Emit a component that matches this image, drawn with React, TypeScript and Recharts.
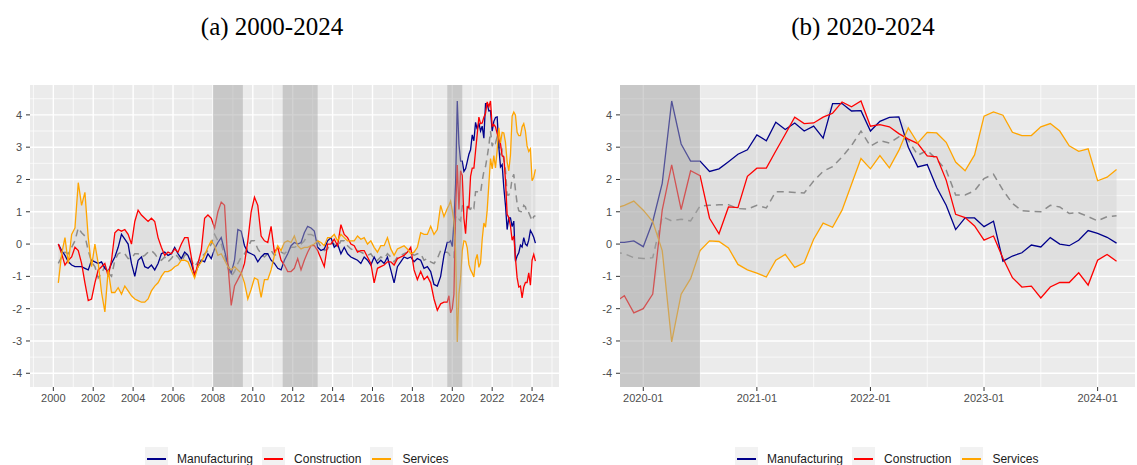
import React from 'react';
import { ComposedChart, Line, Area, XAxis, YAxis, CartesianGrid, ReferenceArea } from 'recharts';

const seriesNames = ['Manufacturing', 'Construction', 'Services'];
const seriesColors = ['#00008B', '#FF0000', '#FFA500'];

// 2000-04 .. 2019-08, every second month
const manufacturingLong = [
  0.0, -0.2, -0.35, -0.55, -0.65, -0.7, -0.7, -0.7, -0.75, -0.8, -0.5, -0.55, -0.6, -0.55, -0.75, -0.85, -0.6, -0.4, -0.1, 0.3, 0.15, 0.0, -0.6, -1.0, -0.5, -0.4, -0.7, -0.75, -0.65,
  -0.8, -0.6, -0.3, -0.25, -0.35, -0.3, -0.1, -0.3, -0.45, -0.25, -0.35, -0.6, -0.95, -0.7, -0.5, -0.55, -0.3, -0.45, -0.15, 0.05, 0.2, -0.2, -0.65, -0.9, -0.5, 0.45, 0.4, -0.05, -0.25, -0.3, -0.35, -0.55,
  -0.4, -0.3, -0.3, -0.5, -0.6, -0.75, -0.8, -0.5, -0.3, -0.05, 0.05, 0.0, 0.05, 0.35, 0.55, 0.5, 0.4, -0.1, -0.2, -0.15, 0.1, 0.2, -0.1, 0.0, -0.3, -0.1, -0.3, -0.4, -0.45, -0.5, -0.6,
  -0.4, -0.5, -0.65, -0.4, -0.6, -0.5, -0.6, -0.4, -0.8, -1.2, -0.7, -0.55, -0.4, -0.45, -0.4, -0.55, -0.45, -0.5, -0.75, -0.7, -0.85, -1.25, -1.3, -1.0, -0.35,
];
const constructionLong = [
  0.0, -0.3, -0.65, -0.5, -0.4, -0.1, -0.2, -0.6, -1.2, -1.75, -1.7, -1.2, -0.8, -0.7, -0.6, -1.0, -0.5, 0.35, 0.45, 0.4, 0.45, 0.3, 0.0, 0.7, 1.05, 0.9, 0.8, 0.7, 0.8,
  0.7, 0.2, -0.1, -0.35, -0.25, -0.3, -0.15, -0.25, 0.0, 0.2, 0.2, -0.4, -1.0, -0.6, -0.2, 0.8, 0.9, 0.8, 0.5, 1.0, 1.3, 1.2, -0.6, -1.9, -1.3, -1.1, -0.9, -0.6, 0.1, 1.0, 1.45, 1.2,
  0.25, 0.1, 0.05, 0.55, -0.25, -0.1, -0.5, -0.65, -0.85, -0.85, -0.75, -0.45, -0.8, -0.5, -0.25, -0.05, -0.05, -0.2, -0.45, -0.7, 0.0, 0.0, 0.15, -0.05, 0.6, 0.3, 0.2, 0.0, -0.05, -0.25, -0.2,
  -0.2, -0.4, -0.6, -1.2, -0.75, -0.7, -0.65, -0.55, -0.55, -0.65, -0.45, -0.4, -0.35, -0.25, -0.1, -0.8, -1.1, -0.85, -1.1, -1.0, -1.2, -1.7, -2.05, -1.85, -1.8,
];
const servicesLong = [
  -1.2, -0.3, 0.2, -0.6, 0.3, 0.5, 1.9, 1.2, 1.6, 0.2, -0.7, 0.0, -0.6, -1.5, -2.1, -0.8, -1.5, -1.5, -1.35, -1.55, -1.3, -1.45, -1.6, -1.7, -1.75, -1.8, -1.8, -1.7, -1.45,
  -1.3, -1.2, -1.0, -0.85, -0.85, -0.8, -0.7, -0.65, -0.5, -0.5, -0.55, -0.8, -1.05, -0.7, -0.55, -0.35, -0.1, 0.1, -0.05, -0.35, -0.3, -0.5, -0.7, -0.8, -0.7, -0.8, -0.9, -1.2, -1.7, -1.4, -1.05, -1.1,
  -1.65, -1.1, -1.1, -0.8, -0.35, -0.05, -0.2, 0.05, 0.1, 0.05, 0.25, -0.05, -0.15, -0.1, -0.1, -0.05, 0.0, 0.1, 0.05, -0.05, 0.2, 0.2, 0.3, 0.1, 0.3, 0.2, 0.1, 0.1, 0.1, 0.25, 0.15,
  0.2, 0.0, 0.1, -0.1, -0.25, -0.05, -0.05, 0.2, -0.15, -0.35, -0.15, -0.1, -0.05, -0.15, -0.3, -0.25, -0.1, 0.35, 0.3, 0.3, 0.55, 0.3, 0.45, 1.2, 0.85,
];
const aggregateLong = [
  -0.6, -0.4, -0.25, -0.3, -0.1, 0.1, 0.5, 0.35, 0.25, -0.2, -0.55, -0.7, -1.05, -0.9, -0.7, -0.9, -1.0, -0.5, -0.3, -0.25, -0.3, -0.45, -0.45, -0.3, -0.3, -0.4, -0.35, -0.25, -0.2,
  -0.3, -0.45, -0.5, -0.4, -0.55, -0.45, -0.3, -0.4, -0.55, -0.35, -0.3, -0.5, -0.7, -0.55, -0.4, -0.3, -0.2, 0.0, 0.3, 0.1, 0.0, -0.35, -0.75, -1.0, -0.85, -0.6, -0.4, -0.3, -0.1, 0.1, 0.1, -0.15,
  -0.3, -0.4, -0.3, -0.2, -0.35, -0.3, -0.25, -0.3, -0.2, -0.1, -0.1, -0.05, 0.0, 0.1, 0.3, 0.3, 0.25, 0.1, -0.1, -0.2, -0.15, 0.05, 0.0, -0.1, 0.1, 0.1, -0.05, -0.15, -0.2, -0.2, -0.25,
  -0.3, -0.35, -0.3, -0.45, -0.5, -0.4, -0.45, -0.3, -0.4, -0.55, -0.4, -0.35, -0.3, -0.25, -0.25, -0.35, -0.3, -0.3, -0.5, -0.45, -0.55, -0.6, -0.45, -0.2, -0.25,
];

// 2019-10 .. 2024-03, monthly
const manufacturingRecent = [
  0.05, 0.05, 0.1, -0.08, 0.7, 1.88, 4.43, 3.1, 2.57, 2.57, 2.25, 2.33, 2.55, 2.78, 2.92, 3.38, 3.2, 3.77, 3.55, 3.75, 3.5, 3.65, 3.28,
  4.35, 4.35, 4.12, 4.13, 3.5, 3.8, 3.92, 3.94, 3.0, 2.39, 2.46, 1.75, 1.2, 0.45, 0.81, 0.81, 0.54, 0.71, -0.53, -0.37, -0.27, -0.03,
  -0.09, 0.2, 0.0, -0.05, 0.12, 0.42, 0.33, 0.21, 0.03,
];
const constructionRecent = [
  -1.8, -1.6, -2.13, -2.0, -1.55, 1.05, 2.45, 1.07, 2.27, 2.12, 0.8, 0.32, 1.15, 1.13, 2.1, 2.35, 2.35, 2.88, 3.4, 3.93, 3.73, 3.75, 3.93,
  4.05, 4.4, 4.25, 4.43, 3.65, 3.7, 3.63, 3.42, 3.25, 3.11, 2.73, 2.7, 1.98, 0.92, 0.82, 0.56, 0.12, 0.25, -0.44, -1.04, -1.33, -1.3,
  -1.67, -1.33, -1.19, -1.19, -0.89, -1.27, -0.5, -0.32, -0.53,
];
const servicesRecent = [
  1.1, 1.2, 1.33, 1.05, 0.7, -0.2, -3.03, -1.55, -1.07, -0.2, 0.1, 0.08, -0.12, -0.63, -0.8, -0.9, -1.02, -0.5, -0.32, -0.72, -0.58, 0.15, 0.65,
  0.52, 1.05, 1.85, 2.65, 2.33, 2.74, 2.36, 2.9, 3.6, 3.13, 3.46, 3.44, 3.15, 2.54, 2.27, 2.76, 3.96, 4.09, 3.99, 3.46, 3.36, 3.36,
  3.63, 3.73, 3.5, 3.04, 2.87, 2.95, 1.96, 2.07, 2.31,
];
const aggregateRecent = [
  -0.25, -0.3, -0.42, -0.45, -0.42, 0.85, 0.72, 0.77, 0.72, 1.18, 1.2, 1.22, 1.22, 1.1, 1.08, 1.2, 1.12, 1.62, 1.62, 1.6, 1.58, 1.95, 2.25,
  2.4, 2.7, 3.05, 3.5, 3.03, 3.2, 3.13, 3.32, 3.22, 2.75, 2.9, 2.62, 2.29, 1.52, 1.52, 1.65, 2.03, 2.16, 1.67, 1.26, 1.03, 1.01,
  1.0, 1.2, 1.15, 0.95, 0.97, 0.85, 0.72, 0.85, 0.88,
];

const recessionsLong = [[2008.0, 2009.5], [2011.5, 2013.25], [2019.75, 2020.5]];
const recessionsRecent = [[-3, 6]]; // months from 2020-01

const longTicks = [2000, 2002, 2004, 2006, 2008, 2010, 2012, 2014, 2016, 2018, 2020, 2022, 2024];
const longMinor = [1999, 2001, 2003, 2005, 2007, 2009, 2011, 2013, 2015, 2017, 2019, 2021, 2023, 2025];
const recentTicks = [0, 12, 24, 36, 48];
const recentTickLabels = ['2020-01', '2021-01', '2022-01', '2023-01', '2024-01'];
const recentMinor = [6, 18, 30, 42];
const yTicks = [-4, -3, -2, -1, 0, 1, 2, 3, 4];
const yMinor = [-3.5, -2.5, -1.5, -0.5, 0.5, 1.5, 2.5, 3.5, 4.5];

const makeRow = (x: number, m: number, c: number, s: number, a: number) => ({
  x,
  manufacturing: m,
  construction: c,
  services: s,
  aggregate: a,
  band: [Math.min(m, c, s), Math.max(m, c, s)],
});

const longData = [
  ...manufacturingLong.map((v, i) =>
    makeRow(2000 + (3 + 2 * i) / 12, v, constructionLong[i], servicesLong[i], aggregateLong[i])),
  ...manufacturingRecent.map((v, i) =>
    makeRow(2020 + (i - 3) / 12, v, constructionRecent[i], servicesRecent[i], aggregateRecent[i])),
];
const recentData = manufacturingRecent.map((v, i) =>
  makeRow(i - 3, v, constructionRecent[i], servicesRecent[i], aggregateRecent[i]));

const tickStyle = { fill: '#4D4D4D', fontSize: 11, fontFamily: 'Liberation Sans, Arial, sans-serif' };
const seriesKeys = ['manufacturing', 'construction', 'services'];

type PanelProps = {
  data: any[];
  width: number;
  margin: { top: number; right: number; bottom: number; left: number };
  xDomain: [number, number];
  xTicks: number[];
  xMinor: number[];
  shades: number[][];
  formatX?: (v: number) => string;
};

const Panel = ({ data, width, margin, xDomain, xTicks, xMinor, shades, formatX }: PanelProps) => (
  <ComposedChart width={width} height={410} data={data} margin={margin}>
    <CartesianGrid fill="#EBEBEB" stroke="#FFFFFF" strokeWidth={0.7} horizontalValues={yMinor} verticalValues={xMinor} />
    <CartesianGrid stroke="#FFFFFF" strokeWidth={1.4} horizontalValues={yTicks} verticalValues={xTicks} />
    <XAxis
      dataKey="x"
      type="number"
      domain={xDomain}
      allowDataOverflow
      ticks={xTicks}
      tickFormatter={formatX}
      axisLine={false}
      tickLine={{ stroke: '#333333' }}
      tickSize={4}
      tickMargin={3}
      height={20}
      tick={tickStyle}
      interval={0}
    />
    <YAxis
      type="number"
      domain={[-4.425, 4.925]}
      allowDataOverflow
      ticks={yTicks}
      axisLine={false}
      tickLine={{ stroke: '#333333' }}
      tickSize={4}
      tickMargin={4}
      width={22}
      tick={tickStyle}
      interval={0}
    />
    <Area dataKey="band" stroke="none" fill="#cccccc" fillOpacity={0.4} isAnimationActive={false} />
    <Line dataKey="aggregate" stroke="#8C8C8C" strokeWidth={1.5} strokeDasharray="7 5" dot={false} isAnimationActive={false} />
    {seriesKeys.map((k, i) => (
      <Line key={k} dataKey={k} stroke={seriesColors[i]} strokeWidth={1.3} dot={false} isAnimationActive={false} />
    ))}
    {shades.map(([a, b]) => (
      <ReferenceArea key={a} x1={a} x2={b} ifOverflow="hidden" fill="#A6A6A6" fillOpacity={0.5} stroke="none" zIndex={450} />
    ))}
  </ComposedChart>
);

const LegendRow = ({ left }: { left: number }) => (
  <div style={{ position: 'absolute', left, top: 447, display: 'flex', alignItems: 'center', height: 23,
    fontFamily: 'Liberation Sans, Arial, sans-serif', fontSize: 12, color: '#1A1A1A' }}>
    {seriesNames.map((n, i) => (
      <div key={n} style={{ display: 'flex', alignItems: 'center', marginRight: 9 }}>
        <div style={{ width: 23, height: 23, background: '#F2F2F2', position: 'relative' }}>
          <div style={{ position: 'absolute', left: 2, right: 2, top: 11, height: 1.5, background: seriesColors[i] }} />
        </div>
        <span style={{ marginLeft: 9 }}>{n}</span>
      </div>
    ))}
  </div>
);

const titleStyle: React.CSSProperties = {
  position: 'absolute', top: 14, width: 300, textAlign: 'center',
  fontFamily: 'Liberation Serif, Times New Roman, serif', fontSize: 25, lineHeight: '25px', color: '#000',
};

export default function App() {
  return (
    <div style={{ position: 'absolute', left: 0, top: 0, width: 1137, height: 465, background: '#fff', overflow: 'hidden' }}>
      <div style={{ ...titleStyle, left: 122 }}>(a) 2000-2024</div>
      <div style={{ ...titleStyle, left: 713 }}>(b) 2020-2024</div>
      <div style={{ position: 'absolute', left: 0, top: 0 }}>
        <Panel
          data={longData}
          width={570}
          margin={{ top: 85, right: 11, bottom: 3, left: 8 }}
          xDomain={[1998.83, 2025.35]}
          xTicks={longTicks}
          xMinor={longMinor}
          shades={recessionsLong}
        />
      </div>
      <div style={{ position: 'absolute', left: 575, top: 0 }}>
        <Panel
          data={recentData}
          width={562}
          margin={{ top: 85, right: 2, bottom: 3, left: 23 }}
          xDomain={[-2.46, 51.95]}
          xTicks={recentTicks}
          xMinor={recentMinor}
          shades={recessionsRecent}
          formatX={(v: number) => recentTickLabels[recentTicks.indexOf(v)]}
        />
      </div>
      <LegendRow left={145} />
      <LegendRow left={735} />
    </div>
  );
}
